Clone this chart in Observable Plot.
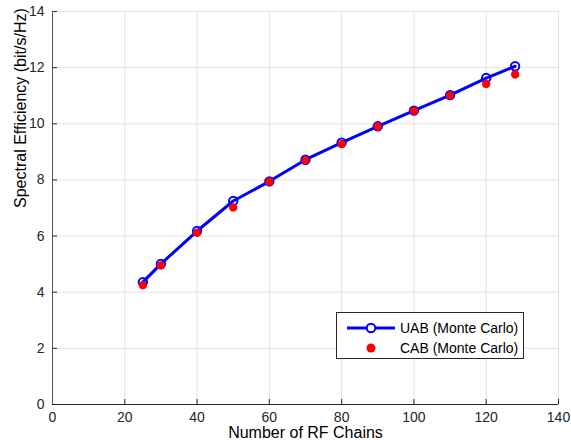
<!DOCTYPE html>
<html>
<head>
<meta charset="utf-8">
<script src="https://cdn.jsdelivr.net/npm/d3@7"></script>
<script src="https://cdn.jsdelivr.net/npm/@observablehq/plot@0.6"></script>
<style>
  html, body { margin: 0; padding: 0; background: #fff; }
  #wrap { position: relative; width: 571px; height: 440px; font-family: "Liberation Sans", Arial, Helvetica, sans-serif; }
  #legend { position: absolute; left: 336px; top: 312px; width: 188px; height: 47px; border: 1px solid #262626; background: #fff; box-sizing: border-box; }
  #legend svg { position: absolute; left: 0; top: 0; }
  .lt { position: absolute; left: 63px; font-size: 14px; color: #000; line-height: 16px; white-space: nowrap; }
</style>
</head>
<body>
<div id="wrap"></div>
<script>
const rfChains = [25, 30, 40, 50, 60, 70, 80, 90, 100, 110, 120, 128];
const uab = [4.36, 5.01, 6.18, 7.25, 7.95, 8.72, 9.33, 9.91, 10.47, 11.02, 11.63, 12.05];
const cab = [4.25, 4.95, 6.12, 7.02, 7.94, 8.70, 9.28, 9.90, 10.46, 11.01, 11.42, 11.76];
const xTicks = [0, 20, 40, 60, 80, 100, 120, 140];
const yTicks = [0, 2, 4, 6, 8, 10, 12, 14];
const seriesNames = ["UAB (Monte Carlo)", "CAB (Monte Carlo)"];
const xLabel = "Number of RF Chains";
const yLabel = "Spectral Efficiency (bit/s/Hz)";

const W = 571, H = 440, mL = 52, mR = 13, mT = 11, mB = 36;
const plotW = W - mL - mR, plotH = H - mT - mB;

const uabData = rfChains.map((x, i) => ({x, y: uab[i]}));
const cabData = rfChains.map((x, i) => ({x, y: cab[i]}));

const chart = Plot.plot({
  width: W, height: H,
  marginLeft: mL, marginRight: mR, marginTop: mT, marginBottom: mB,
  style: {fontFamily: '"Liberation Sans", Arial, Helvetica, sans-serif', fontSize: "14px", color: "#262626", background: "#fff"},
  x: {domain: [0, 140], ticks: xTicks},
  y: {domain: [0, 14], ticks: yTicks},
  marks: [
    Plot.gridX(xTicks, {stroke: "#e3e3e3", strokeOpacity: 1}),
    Plot.gridY(yTicks, {stroke: "#e3e3e3", strokeOpacity: 1}),
    Plot.axisX(xTicks, {tickSize: 0, tickPadding: 8, label: null, fontSize: 14, fill: "#262626"}),
    Plot.axisY(yTicks, {tickSize: 0, tickPadding: 8, label: null, fontSize: 14, fill: "#262626"}),
    Plot.tickX(xTicks, {x: d => d, insetTop: plotH - 5, stroke: "#262626"}),
    Plot.tickY(yTicks, {y: d => d, insetRight: plotW - 5, stroke: "#262626"}),
    Plot.ruleX([0], {stroke: "#555"}),
    Plot.ruleY([0], {stroke: "#262626"}),
    Plot.line(uabData, {x: "x", y: "y", stroke: "#0000ff", strokeWidth: 3}),
    Plot.dot(uabData, {x: "x", y: "y", r: 4.2, stroke: "#0000ff", strokeWidth: 2, fill: "none"}),
    Plot.dot(cabData, {x: "x", y: "y", r: 3.8, symbol: "asterisk", stroke: "#ff0000", strokeWidth: 3.5}),
    Plot.dot(cabData, {x: "x", y: "y", r: 3.6, fill: "#ff0000"}),
    Plot.text([xLabel], {frameAnchor: "bottom", dy: 28, fontSize: 16, fill: "#000", lineAnchor: "middle"}),
    Plot.text([yLabel], {frameAnchor: "left", dx: -32, rotate: -90, fontSize: 16, fill: "#000", lineAnchor: "middle"})
  ]
});

const wrap = document.getElementById("wrap");
wrap.appendChild(chart);

const legend = document.createElement("div");
legend.id = "legend";
legend.innerHTML = `
<svg width="188" height="47">
  <line x1="10" y1="15" x2="58" y2="15" stroke="#0000ff" stroke-width="3"/>
  <circle cx="34" cy="15" r="4.2" stroke="#0000ff" stroke-width="2" fill="#fff"/>
  <circle cx="34" cy="35" r="4.5" fill="#ff0000"/>
</svg>
<div class="lt" style="top:7px">${seriesNames[0]}</div>
<div class="lt" style="top:27px">${seriesNames[1]}</div>`;
wrap.appendChild(legend);
</script>
</body>
</html>
